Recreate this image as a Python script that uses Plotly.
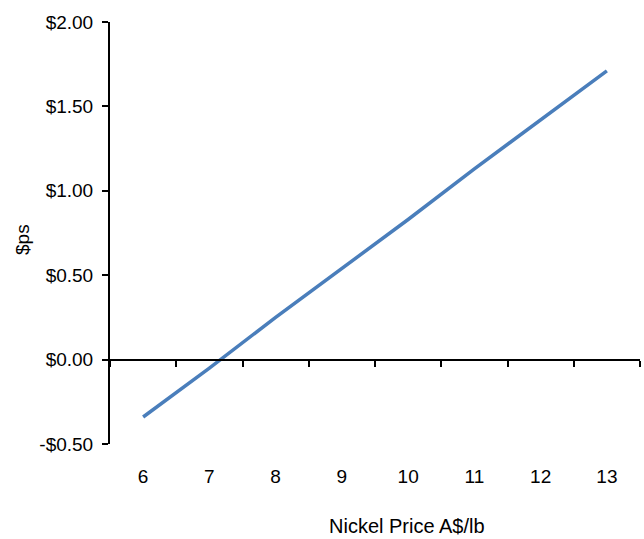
import plotly.graph_objects as go

# Nickel price sensitivity: earnings per share vs nickel price
nickel_price = [6, 7, 8, 9, 10, 11, 12, 13]
eps_value = [-0.34, -0.05, 0.25, 0.54, 0.83, 1.13, 1.42, 1.71]
y_ticks = [-0.5, 0.0, 0.5, 1.0, 1.5, 2.0]
y_tick_labels = ["-$0.50", "$0.00", "$0.50", "$1.00", "$1.50", "$2.00"]
x_divider_ticks = [5.5, 6.5, 7.5, 8.5, 9.5, 10.5, 11.5, 12.5, 13.5]

Y_MIN, Y_MAX = -0.5, 2.0
FONT = "Liberation Sans, Arial, sans-serif"

fig = go.Figure()
fig.add_trace(go.Scatter(
    x=nickel_price, y=eps_value, mode="lines",
    line=dict(color="#4A7EBB", width=3.5),
    showlegend=False, hoverinfo="skip",
))

# invisible trace on the overlay axis so it is rendered
fig.add_trace(go.Scatter(
    x=[nickel_price[0]], y=[0], xaxis="x2", mode="markers",
    marker=dict(opacity=0), showlegend=False, hoverinfo="skip",
))

zero_pos = (0 - Y_MIN) / (Y_MAX - Y_MIN)

fig.update_layout(
    width=644, height=539,
    margin=dict(l=110, r=4, t=22, b=95),
    paper_bgcolor="white", plot_bgcolor="white",
    font=dict(family=FONT, size=19, color="#000000"),
    xaxis=dict(
        range=[5.5, 13.5], tickvals=nickel_price,
        ticktext=[str(v) for v in nickel_price],
        showline=False, showgrid=False, zeroline=False,
        ticks="", ticklabelstandoff=19,
        tickfont=dict(family=FONT, size=19),
    ),
    xaxis2=dict(
        range=[5.5, 13.5], overlaying="x", anchor="free", position=zero_pos,
        tickvals=x_divider_ticks, showticklabels=False,
        showline=True, linecolor="#000000", linewidth=2,
        ticks="outside", ticklen=6, tickwidth=1.5, tickcolor="#000000",
        showgrid=False, zeroline=False,
    ),
    yaxis=dict(
        range=[Y_MIN, Y_MAX], tickvals=y_ticks, ticktext=y_tick_labels,
        showline=True, linecolor="#000000", linewidth=2,
        ticks="outside", ticklen=6, tickwidth=1.5, tickcolor="#000000",
        showgrid=False, zeroline=False, ticklabelstandoff=5,
        tickfont=dict(family=FONT, size=19),
    ),
    annotations=[
        dict(text="Nickel Price A$/lb", xref="paper", yref="paper",
             x=(407 - 110) / 530, y=-(526 - 444) / 422,
             xanchor="center", yanchor="middle", showarrow=False,
             font=dict(family=FONT, size=20)),
        dict(text="$ps", xref="paper", yref="paper",
             x=-(110 - 22) / 530, y=(444 - 240) / 422,
             xanchor="center", yanchor="middle", textangle=-90,
             showarrow=False, font=dict(family=FONT, size=19)),
    ],
)

fig.write_html("out.html")
